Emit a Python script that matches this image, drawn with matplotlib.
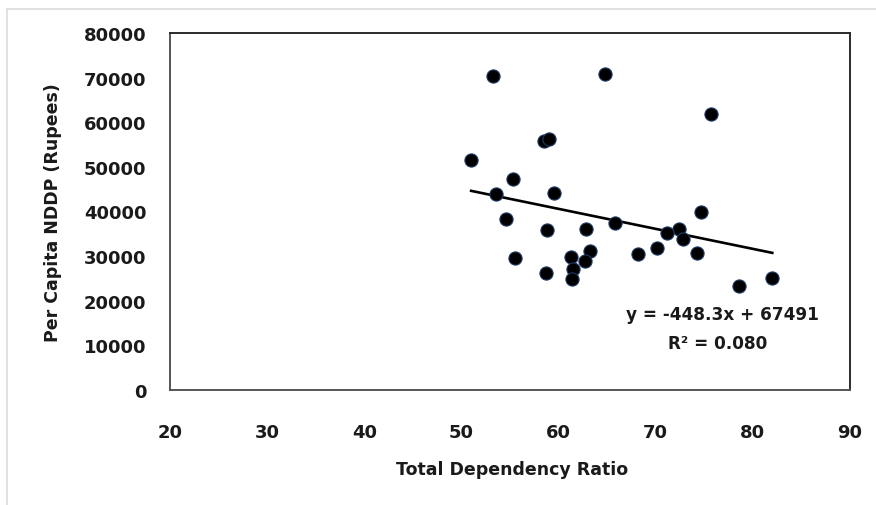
import numpy as np
import matplotlib
matplotlib.use("Agg")
import matplotlib.pyplot as plt
from matplotlib.lines import Line2D

# total dependency ratio vs per capita NDDP, one point per district
dep_ratio = [53.3, 64.8, 75.7, 58.5, 59.0, 51.0, 55.3, 53.6, 59.5, 74.7,
             54.6, 65.8, 58.8, 62.8, 72.4, 71.2, 72.8, 63.2, 70.1, 68.2,
             74.3, 55.5, 61.3, 62.7, 61.5, 58.7, 61.4, 78.6, 82.0]
nddp = [70300, 70900, 61800, 55800, 56300, 51500, 47300, 44000, 44100, 39900,
        38400, 37500, 35900, 36000, 36100, 35100, 33900, 31200, 31900, 30400,
        30600, 29600, 29800, 28800, 27150, 26200, 24900, 23400, 25100]

# linear trend as reported
slope = -448.3
intercept = 67491
r2 = 0.080

plt.rcParams['font.family'] = 'DejaVu Sans'

fig = plt.figure(figsize=(8.76, 5.06), dpi=100)
ax = fig.add_axes([170 / 876, 1 - 391 / 506, 680 / 876, 357 / 506])

ax.scatter(dep_ratio, nddp, s=90, color='black', edgecolor='#1f3a66',
           linewidth=0.8, zorder=3)

xs = np.array([min(dep_ratio), max(dep_ratio)])
ax.plot(xs, slope * xs + intercept, color='black', lw=1.9, zorder=2)

ax.set_xlim(20, 90)
ax.set_ylim(0, 80000)
ax.set_xticks(range(20, 91, 10))
ax.set_yticks(range(0, 80001, 10000))
ax.tick_params(length=0, labelsize=13, colors='#1a1a1a')
ax.tick_params(axis='x', pad=24)
ax.tick_params(axis='y', pad=17)
for lab in ax.get_xticklabels() + ax.get_yticklabels():
    lab.set_fontweight('bold')

for side in ['top', 'right']:
    ax.spines[side].set_color('#2b2b2b')
for side in ['left', 'bottom']:
    ax.spines[side].set_color('#555555')
for sp in ax.spines.values():
    sp.set_linewidth(1.4)

ax.set_xlabel('Total Dependency Ratio', fontsize=12.5, fontweight='bold',
              color='#1a1a1a', va='center')
ax.xaxis.set_label_coords(0.503, (391 - 470) / 357)
ax.set_ylabel('Per Capita NDDP (Rupees)', fontsize=12.5, fontweight='bold',
              color='#1a1a1a', va='center')
ax.yaxis.set_label_coords((53 - 170) / 680, 0.5)

ax.text(76.9, 17000, f'y = {slope}x + {intercept}', fontsize=12.2,
        fontweight='bold', ha='center', va='center', color='#1a1a1a')
ax.text(76.4, 10500, f'R\u00b2 = {r2:.3f}', fontsize=12.2,
        fontweight='bold', ha='center', va='center', color='#1a1a1a')

# light chart-area frame
fig.add_artist(Line2D([7 / 876, 7 / 876], [0, 1 - 10 / 506],
                      transform=fig.transFigure, color='#dcdcdc', lw=1.2))
fig.add_artist(Line2D([7 / 876, 1], [1 - 10 / 506, 1 - 10 / 506],
                      transform=fig.transFigure, color='#dcdcdc', lw=1.2))

fig.savefig('out.png', dpi=100)
